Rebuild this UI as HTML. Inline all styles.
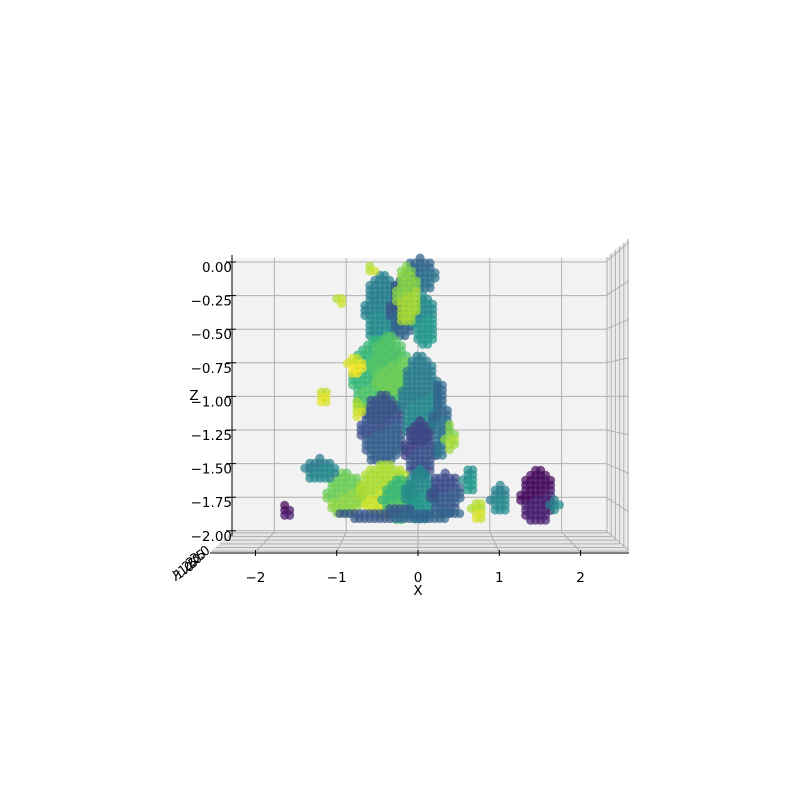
<!DOCTYPE html>
<html><head><meta charset="utf-8"><style>
html,body{margin:0;padding:0;background:#fff}
svg{display:block;font-family:"DejaVu Sans","Liberation Sans",sans-serif}
</style></head><body>
<svg id="chart" width="800" height="800" viewBox="0 0 800 800">
<g id="panes"></g>
<g id="pts"></g>
<g id="axes"></g>
</svg>
<script>
// cluster data: x (X units), z (Z units), half-width (X units), half-height (Z units), colour value 0..1
const clusterX = [0.03,-0.46,-0.21,0.09,-0.145,-0.53,-0.37,-0.46,0.03,0.03,0.29,-0.96,-0.43,-0.24,0.03,0.36,-0.24,-1.29,-0.83,-1.25,-1.03,-0.63,-1.75,0.68,0.79,1.08,1.57,1.80,-0.80,0.42];
const clusterZ = [-0.10,-0.36,-0.36,-0.43,-0.25,-0.88,-0.77,-1.25,-1.03,-1.40,-1.18,-1.73,-1.70,-1.77,-1.73,-1.73,-1.88,-1.55,-0.77,-0.99,-0.28,-0.06,-1.86,-1.62,-1.85,-1.77,-1.75,-1.81,-1.10,-1.32];
const clusterW = [0.20,0.24,0.16,0.16,0.14,0.33,0.24,0.29,0.24,0.20,0.10,0.24,0.33,0.24,0.20,0.20,0.79,0.20,0.10,0.09,0.04,0.07,0.07,0.09,0.09,0.13,0.22,0.07,0.07,0.07];
const clusterH = [0.13,0.26,0.22,0.19,0.22,0.30,0.22,0.26,0.33,0.22,0.30,0.16,0.19,0.15,0.19,0.16,0.045,0.09,0.09,0.06,0.045,0.03,0.05,0.11,0.09,0.11,0.20,0.04,0.06,0.11];
const clusterC = [0.35,0.45,0.30,0.50,0.85,0.70,0.75,0.28,0.45,0.22,0.35,0.80,0.90,0.70,0.50,0.25,0.30,0.45,0.95,0.93,0.90,0.90,0.05,0.50,0.90,0.45,0.05,0.45,0.90,0.85];
const xTicks = [-2,-1,0,1,2];
const zTicks = [0,-0.25,-0.5,-0.75,-1,-1.25,-1.5,-1.75,-2];

const NS="http://www.w3.org/2000/svg";
function mk(t,a,p){const e=document.createElementNS(NS,t);for(const k in a)e.setAttribute(k,a[k]);p.appendChild(e);return e;}
const backX = v => 418 + v*71.8;
const frontX = v => 418 + v*81.3;
const ptX = v => 418 + v*76;
const zY = v => 262 - v*134.4;
const viridis=[[68,1,84],[72,40,120],[62,74,137],[49,104,142],[38,130,142],[31,158,137],[53,183,121],[109,205,89],[180,222,44],[253,231,37]];
function col(t){t=Math.max(0,Math.min(1,t))*9;const i=Math.min(8,Math.floor(t)),f=t-i;const a=viridis[i],b=viridis[i+1];return `rgb(${a.map((c,j)=>Math.round(c+(b[j]-c)*f)).join(',')})`;}

const panes=document.getElementById('panes');
let e=mk('rect',{x:232,y:258,width:374,height:274,fill:'#f2f2f2'},panes);


e=mk('polygon',{points:'606,258 629,238 629,552 606,532',fill:'#ebebeb'},panes);


e=mk('polygon',{points:'232,532 606,532 629,552 210,552',fill:'#e6e6e6'},panes);


const gs={stroke:'#b0b0b0','stroke-width':1};
xTicks.forEach(v=>{
  e=mk('line',Object.assign({x1:backX(v),y1:258,x2:backX(v),y2:532},gs),panes);
  
  
  e=mk('line',Object.assign({x1:backX(v),y1:532,x2:frontX(v),y2:552},gs),panes);
  
  
});
zTicks.forEach(v=>{
  const y=zY(v);
  e=mk('line',Object.assign({x1:232,y1:y,x2:606,y2:y},gs),panes);
  
  
  e=mk('line',Object.assign({x1:606,y1:y,x2:629,y2:y-20+(y-262)/270*40},gs),panes);
  
  
});
for(let i=0;i<6;i++){
  const x=607+i*4.2, yt=258-(x-606)*0.87, yb=532+(x-606)*0.87;
  e=mk('line',Object.assign({x1:x,y1:yt,x2:x,y2:yb},gs),panes);
  
  
  e=mk('line',Object.assign({x1:232-i*4,y1:yb,x2:x,y2:yb},gs),panes);
  
  
}

const pts=document.getElementById('pts');
for(let c=0;c<clusterX.length;c++){
  const cx=ptX(clusterX[c]), cy=zY(clusterZ[c]);
  const rx=Math.max(3,clusterW[c]*76), ry=Math.max(3,clusterH[c]*134.4);
  const g=mk('g',{},pts);
  
  
  for(let dy=-ry;dy<=ry+0.01;dy+=5){
    for(let dx=-rx;dx<=rx+0.01;dx+=5){
      if((dx*dx)/(rx*rx)+(dy*dy)/(ry*ry)>1.05)continue;
      const tt=clusterC[c]+((dx*7+dy*13)%10)/200;
      e=mk('circle',{cx:(cx+dx).toFixed(1),cy:(cy+dy).toFixed(1),r:4.5,fill:col(tt),'fill-opacity':0.72},g);
      
      
    }
  }
}

const ax=document.getElementById('axes');
e=mk('line',{x1:232,y1:255,x2:232,y2:536,stroke:'#000','stroke-width':1},ax);


e=mk('line',{x1:210,y1:553,x2:629,y2:553,stroke:'#000','stroke-width':1},ax);


zTicks.forEach(v=>{
  const y=zY(v);
  e=mk('line',{x1:226,y1:y,x2:236,y2:y,stroke:'#000'},ax);
  
  
  e=mk('text',{x:232,y:y+10,'font-size':13.5,'text-anchor':'end',fill:'#000'},ax);
  e.textContent=(v<0?'\u2212':'')+Math.abs(v).toFixed(2);
  
  
});
xTicks.forEach(v=>{
  const x=frontX(v);
  e=mk('line',{x1:x,y1:550,x2:x,y2:556,stroke:'#000'},ax);
  
  
  e=mk('text',{x:x,y:582,'font-size':13.5,'text-anchor':'middle',fill:'#000'},ax);
  e.textContent=(v<0?'\u2212':'')+Math.abs(v);
  
  
});
e=mk('text',{x:418,y:595,'font-size':13.5,'text-anchor':'middle'},ax);
e.textContent='X';


e=mk('text',{x:194,y:400,'font-size':13.5,'text-anchor':'middle'},ax);
e.textContent='Z';


['1.0','1.5','2.0','2.5','3.0'].forEach((s,i)=>{
  e=mk('text',{x:178+i*4,y:580-i*4,'font-size':13,transform:`rotate(-35 ${178+i*4} ${580-i*4})`},ax);
  e.textContent=s;
  
  
});
e=mk('text',{x:172,y:581,'font-size':13},ax);
e.textContent='Y';


</script>
</body></html>
